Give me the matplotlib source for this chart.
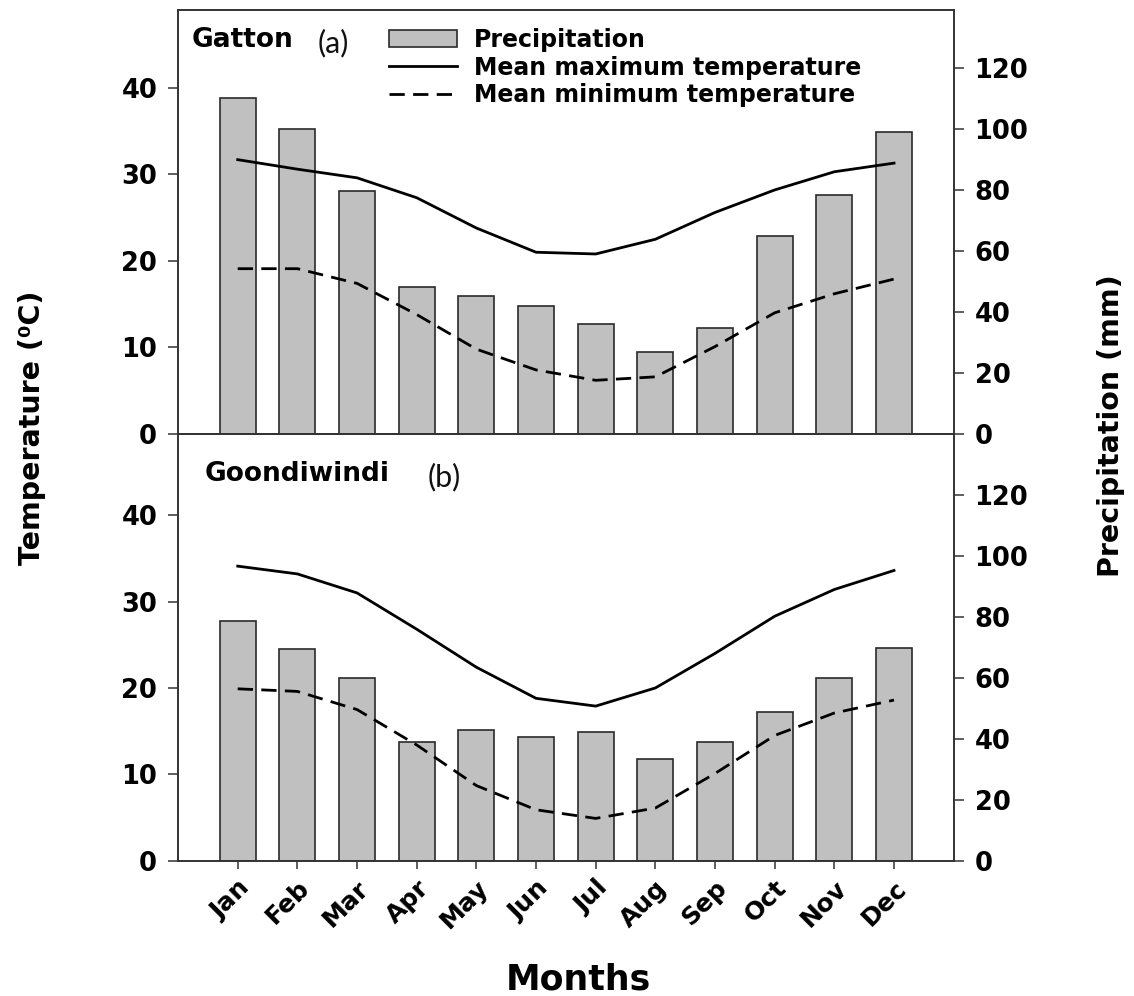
import numpy as np
import matplotlib
matplotlib.use("Agg")
import matplotlib.pyplot as plt
from matplotlib.patches import Patch
from matplotlib.lines import Line2D

months = ["Jan", "Feb", "Mar", "Apr", "May", "Jun",
          "Jul", "Aug", "Sep", "Oct", "Nov", "Dec"]

# Gatton (a)
gatton_rain = [110, 100, 79.5, 48.3, 45.2, 41.8, 36.2, 26.9, 34.8, 64.8, 78.3, 98.9]
gatton_tmax = [31.7, 30.6, 29.6, 27.3, 23.8, 21.0, 20.8, 22.5, 25.6, 28.2, 30.3, 31.3]
gatton_tmin = [19.1, 19.1, 17.4, 13.8, 9.8, 7.4, 6.2, 6.6, 10.1, 14.0, 16.2, 17.9]

# Goondiwindi (b)
goondi_rain = [78.8, 69.3, 59.8, 38.8, 43.0, 40.5, 42.2, 33.4, 39.1, 48.9, 59.8, 69.9]
goondi_tmax = [34.1, 33.2, 31.0, 26.8, 22.4, 18.8, 17.9, 20.0, 24.0, 28.3, 31.4, 33.6]
goondi_tmin = [19.9, 19.6, 17.5, 13.4, 8.7, 5.9, 4.9, 6.1, 10.1, 14.5, 17.1, 18.6]

plt.rcParams['font.family'] = 'DejaVu Sans'
plt.rcParams['font.weight'] = 'bold'

fig = plt.figure(figsize=(11.34, 9.96), dpi=100)

x = np.arange(len(months))
edge = '#333333'


def draw_panel(rect, rain, tmax, tmin, ylim_t, ylim_p, station, tag, st_pos, tag_pos, bottom):
    ax = fig.add_axes(rect)
    ax2 = ax.twinx()
    ax2.bar(x, rain, width=0.6, color='#c0c0c0', edgecolor='#2a2a2a', linewidth=1.2)
    ax.plot(x, tmax, color='black', lw=2.0)
    ax.plot(x, tmin, color='black', lw=2.0, dashes=(5.5, 3))
    # lines on top of the bars
    ax.set_zorder(ax2.get_zorder() + 1)
    ax.patch.set_visible(False)

    ax.set_xlim(-1, 12)
    ax.set_ylim(*ylim_t)
    ax2.set_ylim(*ylim_p)
    ax.set_yticks([0, 10, 20, 30, 40])
    ax2.set_yticks([0, 20, 40, 60, 80, 100, 120])
    for a in (ax, ax2):
        a.tick_params(axis='y', labelsize=18.5, length=7, width=1.1, color=edge, pad=8)
        for s in a.spines.values():
            s.set_color(edge)
            s.set_linewidth(1.2)

    if bottom:
        ax.set_xticks(x)
        ax.set_xticklabels(months, rotation=45, ha='right', rotation_mode='anchor', fontsize=18)
        ax.tick_params(axis='x', length=6, width=1.1, color=edge, pad=5)
    else:
        ax.set_xticks([])

    ax.text(st_pos[0], st_pos[1], station, transform=ax.transAxes, fontsize=19,
            fontweight='bold', va='center', ha='left')
    ax.text(tag_pos[0], tag_pos[1], tag, transform=ax.transAxes, fontsize=22,
            fontweight='normal', family='Lato', va='center', ha='left', color='#111111')
    return ax, ax2


left, width = 0.157, 0.684
ax_a, ax_a2 = draw_panel([left, 0.5643, width, 0.4257], gatton_rain, gatton_tmax, gatton_tmin,
                         (0, 49), (0, 139), "Gatton", "(a)", (0.018, 0.929), (0.180, 0.922), False)
ax_b, ax_b2 = draw_panel([left, 0.1358, width, 0.4285], goondi_rain, goondi_tmax, goondi_tmin,
                         (0, 49.4), (0, 140), "Goondiwindi", "(b)", (0.034, 0.906), (0.322, 0.899), True)

handles = [Patch(facecolor='#c0c0c0', edgecolor='#2a2a2a', linewidth=1.2),
           Line2D([], [], color='black', lw=2.0),
           Line2D([], [], color='black', lw=2.0, dashes=(5.5, 3))]
labels = ["Precipitation", "Mean maximum temperature", "Mean minimum temperature"]
ax_a.legend(handles, labels, loc='upper left', bbox_to_anchor=(0.272, 0.958), frameon=False,
            fontsize=17, handlelength=2.9, handletextpad=0.7, labelspacing=0.16,
            borderpad=0, borderaxespad=0)

fig.text(0.028, 0.571, "Temperature (⁰C)", rotation=90, fontsize=20.5, fontweight='bold',
         va='center', ha='center')
fig.text(0.980, 0.573, "Precipitation (mm)", rotation=90, fontsize=20.5, fontweight='bold',
         va='center', ha='center')
fig.text(0.51, 0.017, "Months", fontsize=25, fontweight='bold', va='center', ha='center')

fig.savefig("out.png", dpi=100)
